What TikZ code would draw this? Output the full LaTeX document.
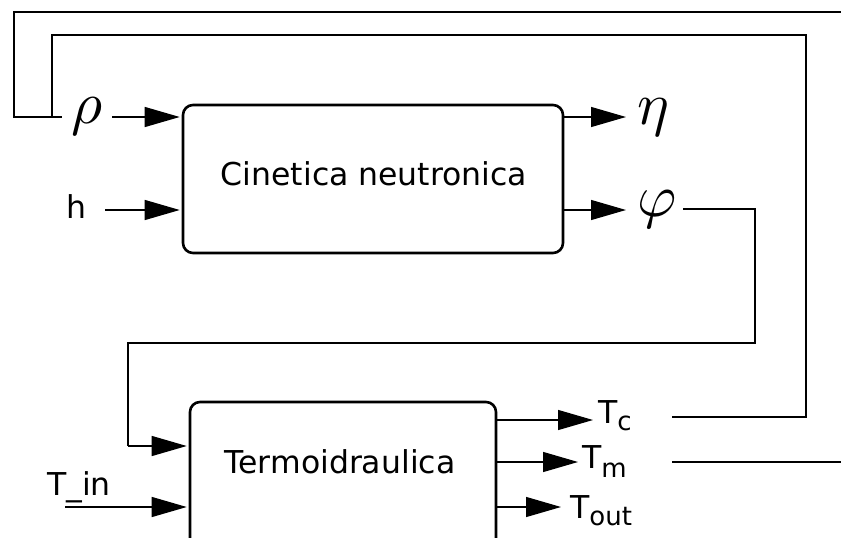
\documentclass[tikz,border=0pt]{standalone}
\usepackage{graphicx}
\usepackage{fontspec}
\setmainfont{DejaVu Sans}
\usetikzlibrary{arrows.meta}
\begin{document}
\begin{tikzpicture}[x=1pt,y=-1pt,
  wire/.style={line width=1.3pt},
  arr/.style={line width=1.3pt,-{Triangle[length=35pt,width=20pt]},shorten >=2pt},
  blk/.style={draw,line width=2.6pt,rounded corners=10pt,inner sep=0pt},
  lbl/.style={inner sep=0pt,font=\fontsize{31.5}{32}\selectfont},
  gr/.style={inner sep=0pt}]
\useasboundingbox (0,0) rectangle (841,538);
\clip (0,0) rectangle (841,538);

% blocks
\node[blk,minimum width=380pt,minimum height=148pt] (cin) at (373,179) {};
\node[lbl,anchor=base] (cinlabel) at (374,185) {Cinetica neutronica};
\node[blk,minimum width=306pt,minimum height=170pt] (term) at (343,487) {};
\node[lbl,anchor=base] (termlabel) at (340,473) {Termoidraulica};

% labels
\node[gr,anchor=base] (rho) at (87,123) {\scalebox{6}{$\rho$}};
\node[gr,anchor=base] (eta) at (653,124) {\scalebox{6}{$\eta$}};
\node[gr,anchor=base] (phi) at (657,216) {\scalebox{6}{$\varphi$}};
\node[lbl,anchor=base] (h) at (76,218) {h};
\node[lbl,anchor=base west] (tin) at (47,495) {T\_in};
\node[lbl,anchor=base west] (tc) at (598,423) {T\raisebox{-7pt}{\fontsize{26}{26}\selectfont c}};
\node[lbl,anchor=base west] (tm) at (582,468) {T\raisebox{-9pt}{\fontsize{26}{26}\selectfont m}};
\node[lbl,anchor=base west] (tout) at (570,518) {T\raisebox{-7pt}{\fontsize{26}{26}\selectfont out}};

% coordinates
\coordinate (rhoout) at (112,117);
\coordinate (hout) at (105,210);
\coordinate (etain) at (628,117);
\coordinate (phiin) at (628,210);
\coordinate (phiout) at (683,209);
\coordinate (fb1) at (128,446);
\coordinate (tinout) at (65,507);
\coordinate (tcin) at (595,420);
\coordinate (tmin) at (580,462);
\coordinate (toutin) at (563,507);
\coordinate (tcline) at (672,417);
\coordinate (tmline) at (672,462);
\coordinate (tmedge) at (841,462);
\coordinate (topedge) at (841,12);
\coordinate (rhoin) at (62,117);

% input arrows
\draw[arr] (rhoout) -- (rhoout -| cin.west);
\draw[arr] (hout) -- (hout -| cin.west);
\draw[arr] (etain -| cin.east) -- (etain);
\draw[arr] (phiin -| cin.east) -- (phiin);
\draw[arr] (fb1) -- (fb1 -| term.west);
\draw[arr] (tinout) -- (tinout -| term.west);
\draw[arr] (tcin -| term.east) -- (tcin);
\draw[arr] (tmin -| term.east) -- (tmin);
\draw[arr] (toutin -| term.east) -- (toutin);

% feedback wires
\draw[wire] (phiout) -- (755,209) -- (755,343) -- (128,343) -- (fb1);
\draw[wire] (tcline) -- (806,417) -- (806,35) -- (52,35) -- (52,117);
\draw[wire] (tmline) -- (tmedge);
\draw[wire] (topedge) -- (14,12) -- (14,117) -- (rhoin);
\end{tikzpicture}
\end{document}
